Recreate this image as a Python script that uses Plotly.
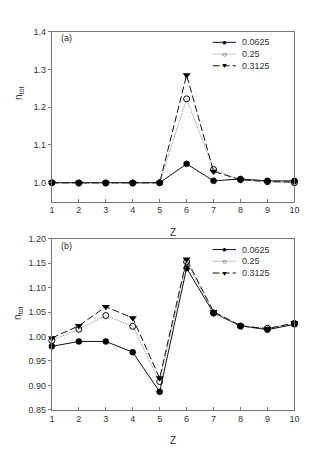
import plotly.graph_objects as go

z = [1, 2, 3, 4, 5, 6, 7, 8, 9, 10]
series_names = ["0.0625", "0.25", "0.3125"]

a_0625 = [1.000, 1.000, 1.000, 1.000, 1.000, 1.050, 1.005, 1.010, 1.005, 1.005]
a_025 = [1.000, 0.999, 0.999, 0.999, 1.000, 1.222, 1.035, 1.008, 1.003, 1.000]
a_03125 = [1.000, 1.000, 1.000, 1.000, 1.000, 1.285, 1.030, 1.008, 1.003, 1.002]

b_0625 = [0.980, 0.990, 0.990, 0.968, 0.887, 1.140, 1.048, 1.022, 1.014, 1.025]
b_025 = [0.992, 1.015, 1.043, 1.021, 0.908, 1.153, 1.048, 1.021, 1.017, 1.027]
b_03125 = [0.997, 1.022, 1.061, 1.038, 0.915, 1.158, 1.051, 1.022, 1.016, 1.028]

a_ticks = [1.0, 1.1, 1.2, 1.3, 1.4]
b_ticks = [0.85, 0.90, 0.95, 1.00, 1.05, 1.10, 1.15, 1.20]

styles = [
    dict(line=dict(color="#111", width=1, dash="solid"),
         marker=dict(symbol="circle", size=6, color="black", line=dict(color="black", width=0.5))),
    dict(line=dict(color="#888", width=1, dash="1px,1px"),
         marker=dict(symbol="circle-open", size=6, color="black", line=dict(color="black", width=1))),
    dict(line=dict(color="#111", width=1, dash="7px,3px"),
         marker=dict(symbol="triangle-down", size=7, color="black", line=dict(color="black", width=0))),
]

fig = go.Figure()
for ys, xa, ya in [((a_0625, a_025, a_03125), "x", "y"),
                   ((b_0625, b_025, b_03125), "x2", "y2")]:
    for name, yv, st in zip(series_names, ys, styles):
        fig.add_trace(go.Scatter(x=z, y=yv, name=name, mode="lines+markers",
                                 xaxis=xa, yaxis=ya, showlegend=False,
                                 cliponaxis=False, **st))

# page body has an 8px margin; work in window pixels and convert
OFF = 8
W, H = 314 - OFF, 453 - OFF


def fx(px):
    return (px - OFF) / W


def fy(py):
    return 1 - (py - OFF) / H


xd = [fx(50), fx(299)]
top_dom = [fy(201), fy(27)]
bot_dom = [fy(414), fy(239)]

axis_common = dict(showline=True, linecolor="#777", linewidth=1, mirror=True,
                   tickcolor="#777", showgrid=False, ticklen=3,
                   zeroline=False, tickfont=dict(size=9, color="#333"))

fig.update_layout(
    width=W, height=H, margin=dict(l=0, r=0, t=0, b=0),
    paper_bgcolor="white", plot_bgcolor="white",
    font=dict(family="Liberation Sans, Arial, sans-serif", size=9, color="#333"),
    xaxis=dict(domain=xd, range=[1, 10], tickvals=z, anchor="y", ticks="inside", **axis_common),
    yaxis=dict(domain=top_dom, range=[0.95, 1.4], tickvals=a_ticks,
               tickformat=".1f", anchor="x", ticks="outside", **axis_common),
    xaxis2=dict(domain=xd, range=[1, 10], tickvals=z, anchor="y2", ticks="inside", **axis_common),
    yaxis2=dict(domain=bot_dom, range=[0.85, 1.20], tickvals=b_ticks,
                tickformat=".2f", anchor="x2", ticks="outside", **axis_common),
    showlegend=False,
)


def txt(text, px, py, size=9, xanchor="center", angle=0, color="#333"):
    return dict(text=text, x=fx(px), y=fy(py), xref="paper", yref="paper",
                xanchor=xanchor, yanchor="middle", showarrow=False, textangle=angle,
                font=dict(size=size, color=color))


ann = [
    txt("Z", 174.5, 233, size=10),
    txt("Z", 174.5, 445, size=10),
    txt("n<sub>tot</sub>", 16, 90, size=10, angle=-90),
    txt("n<sub>tot</sub>", 15, 315, size=10, angle=-90),
    txt("(a)", 57, 34, xanchor="left"),
    txt("(b)", 57, 246, xanchor="left"),
]

shapes = []
syms = {"circle": "●", "circle-open": "○", "triangle-down": "▼"}
for y0 in (38, 250):
    for i, (name, st) in enumerate(zip(series_names, styles)):
        yy = y0 + 12 * i
        shapes.append(dict(type="line", xref="paper", yref="paper",
                           x0=fx(215), x1=fx(239), y0=fy(yy), y1=fy(yy),
                           line=dict(color=st["line"]["color"], width=1, dash=st["line"]["dash"])))
        ann.append(txt(name, 243, yy, xanchor="left"))
        sym = syms[st["marker"]["symbol"]]
        ann.append(txt(sym, 227, yy, size=8 if sym != "▼" else 7, color="black"))

fig.update_layout(annotations=ann, shapes=shapes)
fig.write_html("out.html")
